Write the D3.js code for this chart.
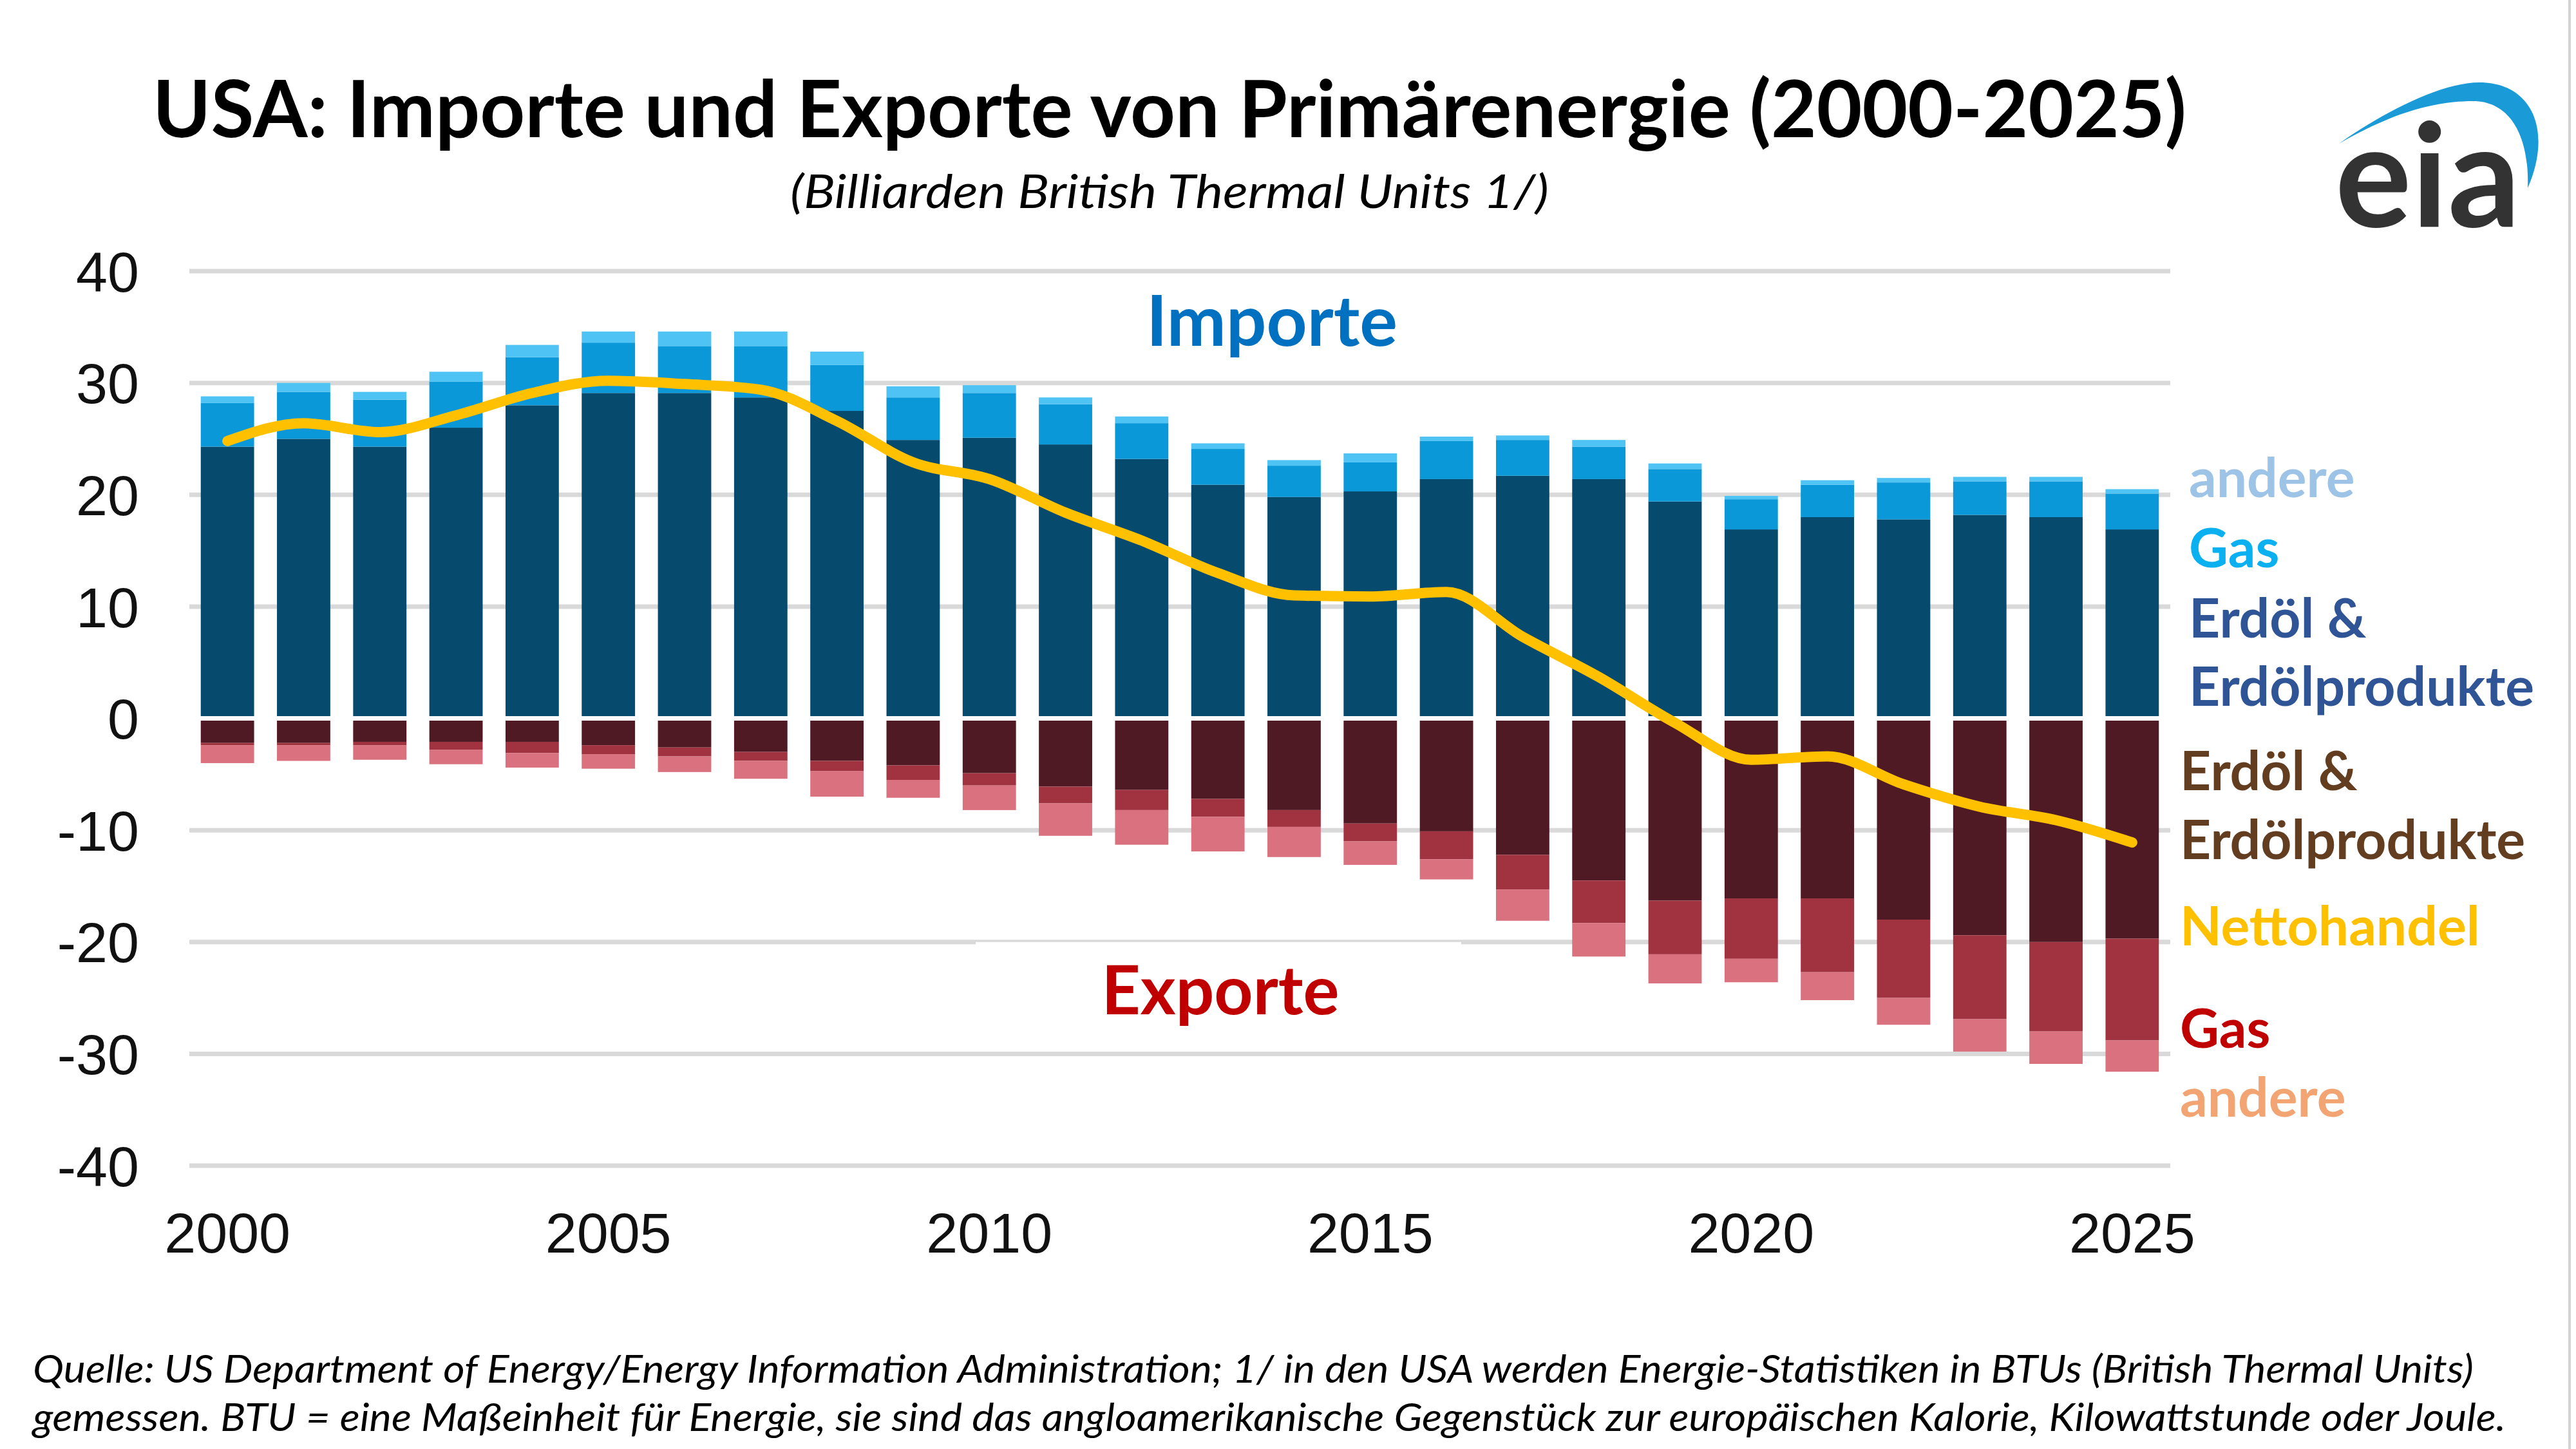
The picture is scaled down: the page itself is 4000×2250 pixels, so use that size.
<!DOCTYPE html>
<html>
<head>
<meta charset="utf-8">
<script src="https://cdn.jsdelivr.net/npm/d3@7"></script>
<style>
  html, body { margin: 0; padding: 0; background: #fff; }
  svg { display: block; }
</style>
</head>
<body>
<svg id="chart" width="4000" height="2250"></svg>
<script>
// data (quadrillion Btu)
var years = [2000, 2001, 2002, 2003, 2004, 2005, 2006, 2007, 2008, 2009, 2010, 2011, 2012,
             2013, 2014, 2015, 2016, 2017, 2018, 2019, 2020, 2021, 2022, 2023, 2024, 2025];

var importOil   = [24.3, 25.0, 24.3, 26.0, 28.0, 29.1, 29.1, 28.7, 27.5, 24.9, 25.1, 24.5, 23.2,
                   20.9, 19.8, 20.3, 21.4, 21.7, 21.4, 19.4, 16.9, 18.0, 17.8, 18.2, 18.0, 16.9];
var importGas   = [3.9, 4.2, 4.2, 4.1, 4.3, 4.5, 4.2, 4.6, 4.1, 3.8, 4.0, 3.6, 3.2,
                   3.2, 2.8, 2.6, 3.4, 3.2, 2.9, 2.9, 2.7, 2.9, 3.3, 3.0, 3.2, 3.2];
var importOther = [0.6, 0.8, 0.7, 0.9, 1.1, 1.0, 1.3, 1.3, 1.2, 1.0, 0.7, 0.6, 0.6,
                   0.5, 0.5, 0.8, 0.4, 0.4, 0.6, 0.5, 0.3, 0.4, 0.4, 0.4, 0.4, 0.4];

var exportOil   = [2.2, 2.2, 2.1, 2.1, 2.1, 2.4, 2.6, 3.0, 3.8, 4.2, 4.9, 6.1, 6.4,
                   7.2, 8.2, 9.4, 10.1, 12.2, 14.5, 16.3, 16.1, 16.1, 18.0, 19.4, 20.0, 19.7];
var exportGas   = [0.2, 0.2, 0.3, 0.7, 1.0, 0.8, 0.8, 0.8, 0.9, 1.3, 1.1, 1.5, 1.8,
                   1.6, 1.5, 1.6, 2.5, 3.1, 3.8, 4.8, 5.4, 6.6, 7.0, 7.5, 8.0, 9.1];
var exportOther = [1.6, 1.4, 1.3, 1.3, 1.3, 1.3, 1.4, 1.6, 2.3, 1.6, 2.2, 2.9, 3.1,
                   3.1, 2.7, 2.1, 1.8, 2.8, 3.0, 2.6, 2.1, 2.5, 2.4, 2.9, 2.9, 2.8];

var netTrade    = [24.8, 26.4, 25.6, 27.1, 29.1, 30.2, 29.9, 29.4, 26.6, 22.9, 21.4, 18.4, 15.9,
                   13.0, 11.0, 10.9, 11.3, 7.3, 3.7, -0.4, -3.7, -3.4, -5.9, -7.9, -9.1, -11.1];

var yTicks = [40, 30, 20, 10, 0, -10, -20, -30, -40];
var xTickYears = [2000, 2005, 2010, 2015, 2020, 2025];

var importLegend = ["andere", "Gas", "Erdöl &", "Erdölprodukte"];
var exportLegend = ["Erdöl &", "Erdölprodukte", "Nettohandel", "Gas", "andere"];

var keys = ["impOil", "impGas", "impOther", "expOil", "expGas", "expOther"];
var colors = {
    impOil: "#064a6e", impGas: "#0b98d8", impOther: "#4fc3f4",
    expOil: "#4f1a24", expGas: "#a1323f", expOther: "#d9717e"
};

var table = years.map(function (y, i) {
    return {
        year: y,
        impOil: importOil[i], impGas: importGas[i], impOther: importOther[i],
        expOil: -exportOil[i], expGas: -exportGas[i], expOther: -exportOther[i]
    };
});

var svg = d3.select("#chart");

var x = d3.scaleBand()
    .domain(years)
    .range([294, 3370])
    .paddingInner(0.3)
    .paddingOuter(0.15);

var y = d3.scaleLinear()
    .domain([-40, 40])
    .range([1810, 421]);

// grid
svg.append("g")
    .selectAll("line")
    .data(yTicks.filter(function (d) { return d !== 0; }))
    .enter().append("line")
    .attr("x1", 294).attr("x2", 3370)
    .attr("y1", function (d) { return y(d); })
    .attr("y2", function (d) { return y(d); })
    .attr("stroke", "#d9d9d9")
    .attr("stroke-width", 7);

// y labels
svg.append("g")
    .selectAll("text")
    .data(yTicks)
    .enter().append("text")
    .attr("x", 216)
    .attr("y", function (d) { return y(d); })
    .attr("dy", "0.36em")
    .attr("text-anchor", "end")
    .style("font-family", "'Liberation Sans', Arial, sans-serif")
    .style("font-size", "88px")
    .attr("fill", "#111")
    .text(function (d) { return d; });

// x labels
svg.append("g")
    .selectAll("text")
    .data(xTickYears)
    .enter().append("text")
    .attr("x", function (d) { return x(d) + x.bandwidth() / 2; })
    .attr("y", 1945)
    .attr("text-anchor", "middle")
    .style("font-family", "'Liberation Sans', Arial, sans-serif")
    .style("font-size", "88px")
    .attr("fill", "#111")
    .text(function (d) { return d; });

// white box behind "Exporte" (cuts the -20 gridline like the original)
svg.append("rect")
    .attr("x", 1515).attr("y", y(-20))
    .attr("width", 754).attr("height", 130)
    .attr("fill", "#fff");

// stacked bars
var series = d3.stack()
    .keys(keys)
    .offset(d3.stackOffsetDiverging)(table);

svg.append("g")
    .selectAll("g")
    .data(series)
    .enter().append("g")
    .attr("fill", function (d) { return colors[d.key]; })
    .selectAll("rect")
    .data(function (d) { return d; })
    .enter().append("rect")
    .attr("x", function (d) { return x(d.data.year); })
    .attr("width", x.bandwidth())
    .attr("y", function (d) { return y(Math.max(d[0], d[1])); })
    .attr("height", function (d) { return Math.abs(y(d[0]) - y(d[1])); });

// gap at zero
svg.append("line")
    .attr("x1", 294).attr("x2", 3370)
    .attr("y1", y(0)).attr("y2", y(0))
    .attr("stroke", "#fff")
    .attr("stroke-width", 7);

// net trade line
var line = d3.line()
    .x(function (d, i) { return x(years[i]) + x.bandwidth() / 2; })
    .y(function (d) { return y(d); })
    .curve(d3.curveMonotoneX);

svg.append("path")
    .datum(netTrade)
    .attr("d", line)
    .attr("fill", "none")
    .attr("stroke", "#ffc000")
    .attr("stroke-width", 16)
    .attr("stroke-linejoin", "round")
    .attr("stroke-linecap", "round");

// in-chart labels
var calibri = "Lato, 'Open Sans', sans-serif";
svg.append("text")
    .attr("x", 1975).attr("y", 537)
    .attr("text-anchor", "middle")
    .style("font-family", calibri).style("font-weight", "bold").style("font-size", "110px")
    .attr("fill", "#0070c0")
    .text("Importe");

svg.append("text")
    .attr("x", 1895).attr("y", 1575)
    .attr("text-anchor", "middle")
    .style("font-family", calibri).style("font-weight", "bold").style("font-size", "105px")
    .attr("fill", "#c00000")
    .text("Exporte");

// legend on the right
var impY = [772, 881, 990, 1096];
var impC = ["#9dc3e6", "#0ab0ef", "#2f5597", "#2f5597"];
svg.append("g")
    .selectAll("text")
    .data(importLegend)
    .enter().append("text")
    .attr("x", 3399)
    .attr("y", function (d, i) { return impY[i]; })
    .style("font-family", calibri).style("font-weight", "bold").style("font-size", "84px")
    .attr("fill", function (d, i) { return impC[i]; })
    .text(function (d) { return d; });

var expY = [1227, 1334, 1468, 1627, 1734];
var expC = ["#633d20", "#633d20", "#ffc000", "#c00000", "#f2a472"];
svg.append("g")
    .selectAll("text")
    .data(exportLegend)
    .enter().append("text")
    .attr("x", 3385)
    .attr("y", function (d, i) { return expY[i]; })
    .style("font-family", calibri).style("font-weight", "bold").style("font-size", "84px")
    .attr("fill", function (d, i) { return expC[i]; })
    .text(function (d) { return d; });

// title
svg.append("text")
    .attr("x", 1816).attr("y", 213)
    .attr("text-anchor", "middle")
    .style("font-family", calibri).style("font-weight", "bold").style("font-size", "122px")
    .attr("fill", "#000")
    .text("USA: Importe und Exporte von Primärenergie (2000-2025)");

svg.append("text")
    .attr("x", 1816).attr("y", 323)
    .attr("text-anchor", "middle")
    .attr("textLength", 1178)
    .attr("lengthAdjust", "spacingAndGlyphs")
    .style("font-family", calibri).style("font-style", "italic").style("font-size", "72px")
    .attr("fill", "#000")
    .text("(Billiarden British Thermal Units 1/)");

// eia logo
svg.append("path")
    .attr("d", "M3632,223 C3700,175 3790,128 3850,128 C3930,128 3965,200 3925,292 C3928,215 3900,157 3840,157 C3760,157 3690,190 3632,223 Z")
    .attr("fill", "#1b9ad8");
svg.append("text")
    .attr("x", 3626).attr("y", 352)
    .style("font-family", calibri).style("font-weight", "bold").style("font-size", "222px")
    .attr("fill", "#333")
    .text("eia");

// footer
var foot = [
    "Quelle: US Department of Energy/Energy Information Administration; 1/ in den USA werden Energie-Statistiken in BTUs (British Thermal Units)",
    "gemessen. BTU = eine Maßeinheit für Energie, sie sind das angloamerikanische Gegenstück zur europäischen Kalorie, Kilowattstunde oder Joule."
];
var footLen = [3790, 3840];
svg.append("g")
    .selectAll("text")
    .data(foot)
    .enter().append("text")
    .attr("x", 51)
    .attr("y", function (d, i) { return 2147 + i * 75; })
    .attr("textLength", function (d, i) { return footLen[i]; })
    .attr("lengthAdjust", "spacingAndGlyphs")
    .style("font-family", calibri).style("font-style", "italic").style("font-size", "60px")
    .attr("fill", "#000")
    .text(function (d) { return d; });

// right border line
svg.append("line")
    .attr("x1", 3990).attr("x2", 3990)
    .attr("y1", 0).attr("y2", 2250)
    .attr("stroke", "#d4d4d4")
    .attr("stroke-width", 4);
</script>
</body>
</html>
